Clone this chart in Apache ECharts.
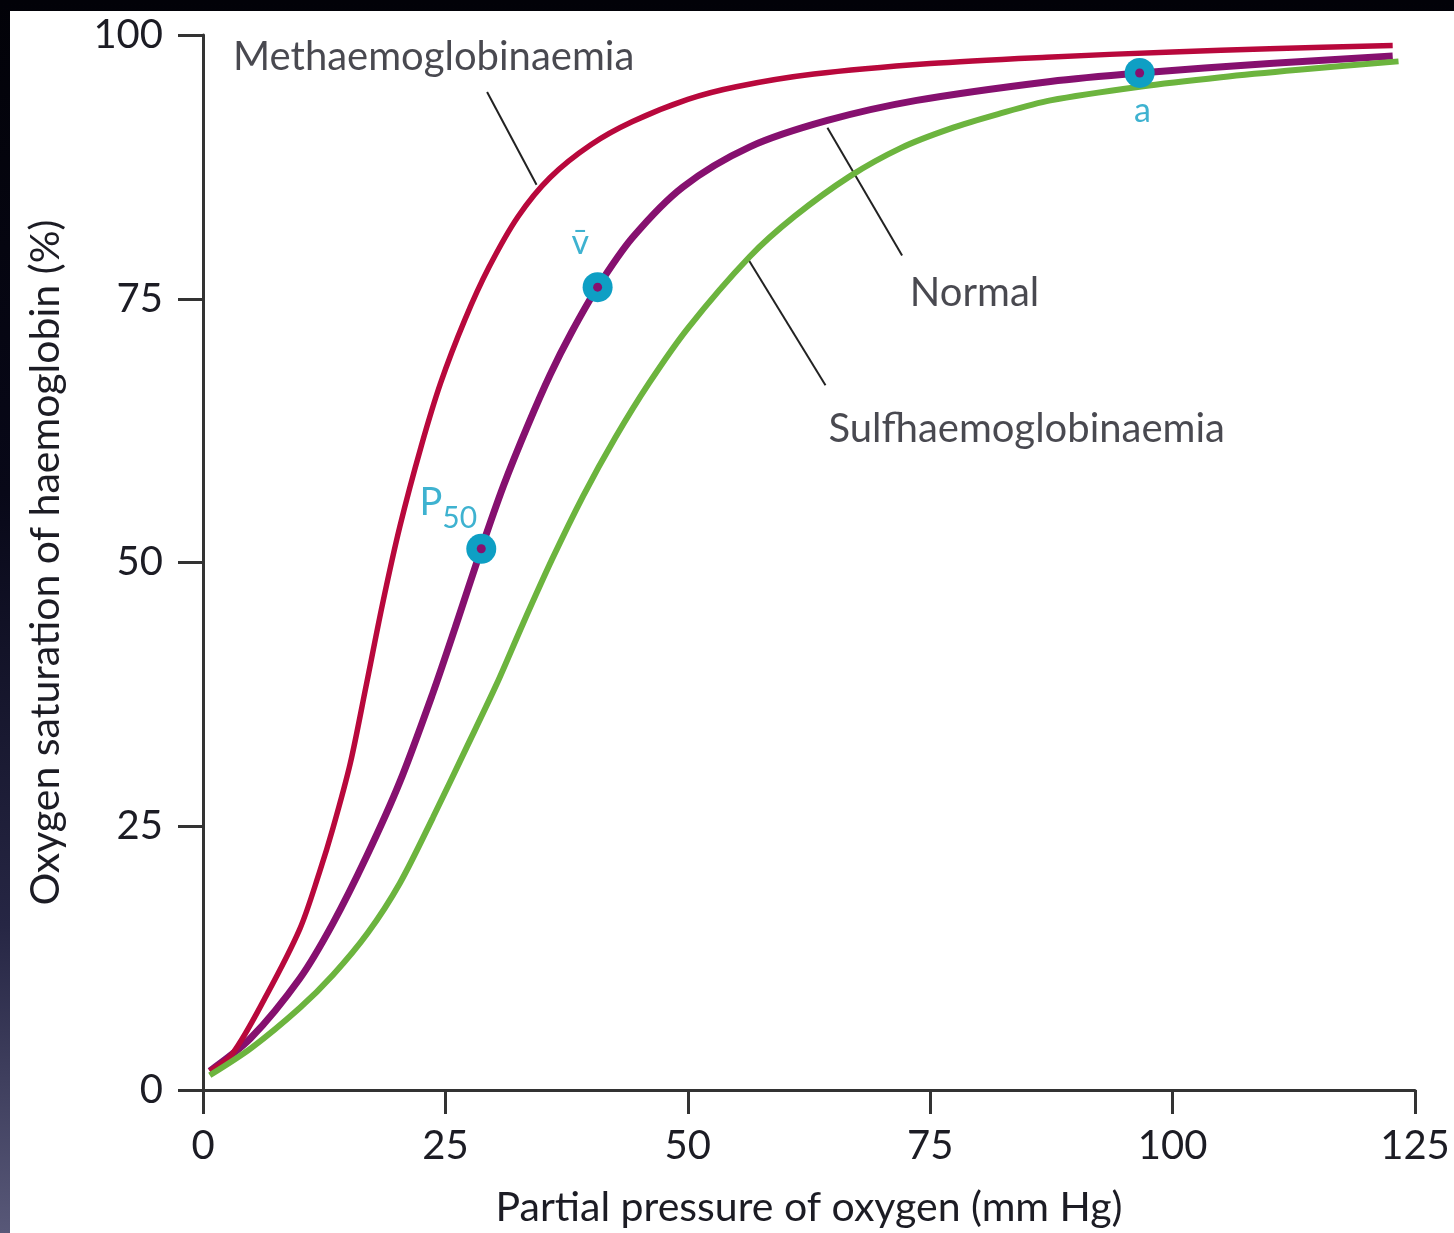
<!DOCTYPE html>
<html><head><meta charset="utf-8">
<script src="https://cdn.jsdelivr.net/npm/echarts@6/dist/echarts.min.js"></script>
<style>
html,body{margin:0;padding:0;width:1454px;height:1233px;overflow:hidden;background:linear-gradient(to bottom,#020208 0%,#080818 40%,#262644 75%,#585878 100%);}
#chart{position:absolute;left:10px;top:11px;width:1444px;height:1222px;background:#fff;}
</style></head><body><div id="chart"></div>
<script>
// Axis ticks
const xTicks = [0, 25, 50, 75, 100, 125];
const yTicks = [0, 25, 50, 75, 100];

// Curves: [pressure mmHg, saturation %]
const normalCurve = [[0.7,1.8],[4.9,4.9],[10,10.6],[13.4,15.8],[16.9,22.2],[20.3,29.2],[23.7,37.6],[26,43.8],[28.7,51.3],[31,57.3],[33.5,63],[35.8,67.8],[38,71.8],[40.7,76.1],[44.3,80.8],[49.5,85.6],[56.4,89.4],[64.4,91.9],[73.6,93.8],[87.4,95.6],[96.6,96.4],[110,97.3],[122.7,98]];
const methCurve = [[0.7,1.8],[3,3.4],[6.5,8.9],[10,15.3],[12,20.6],[13.4,24.8],[15.2,31],[16.8,38.2],[18.5,46],[20.3,53.4],[22.5,61],[24.5,67],[27,73],[29.5,78],[32.5,82.8],[35.8,86.5],[40,89.6],[44.3,91.8],[50,93.9],[55,95.1],[63,96.3],[75,97.3],[87,97.9],[100,98.4],[110,98.7],[122.7,99]];
const sulfCurve = [[0.7,1.4],[5,4],[10,7.8],[13.4,10.9],[17,14.9],[20.3,19.6],[23.7,25.8],[27.2,32.5],[30.3,38.5],[33,44.2],[36,50.3],[39.2,56.3],[42.5,61.8],[46,67],[50,72.2],[56.4,79],[61,82.8],[66.7,86.6],[72,89.3],[77,91.1],[82,92.5],[87.4,93.8],[96.6,95.1],[105,96],[113,96.7],[123.3,97.5]];

// Marked points on the normal curve
const markerPoints = [[28.7,51.3],[40.7,76.1],[96.6,96.4]];
const markerNames = ['P50', 'v̄', 'a'];
const markerLabelAt = [[25.3,55.0],[38.9,80.3],[96.9,92.8]];

// Curve names and leader lines
const curveNames = ['Methaemoglobinaemia', 'Normal', 'Sulfhaemoglobinaemia'];
const curveNameAt = [[3.1,97.9],[72.9,75.5],[64.5,62.6]];
const leaderLines = [[[29.3,94.6],[34.4,85.8]],[[64.4,91.2],[72.1,79.1]],[[56.2,78.8],[64.2,66.8]]];

const FONT = 'Lato';
const TXT = '#1c1c24';
const CYAN = '#0e9fc4';
const RED = '#b8083c';
const PURPLE = '#86106f';
const GREEN = '#6cb43e';

const chart = echarts.init(document.getElementById('chart'));

const series = [];
leaderLines.forEach(l => series.push({
  type: 'line', data: l, symbol: 'none', silent: true, z: 1,
  lineStyle: { color: '#222', width: 2 }
}));
series.push({ type: 'line', data: normalCurve, smooth: 0.3, symbol: 'none', z: 3,
  lineStyle: { color: PURPLE, width: 7 } });
series.push({ type: 'line', data: methCurve, smooth: 0.3, symbol: 'none', z: 4,
  lineStyle: { color: RED, width: 5.5 } });
series.push({ type: 'line', data: sulfCurve, smooth: 0.3, symbol: 'none', z: 5,
  lineStyle: { color: GREEN, width: 6 } });
series.push({ type: 'scatter', data: markerPoints, symbolSize: 30, z: 6,
  itemStyle: { color: CYAN, opacity: 1 } });
series.push({ type: 'scatter', data: markerPoints, symbolSize: 9, z: 7,
  itemStyle: { color: PURPLE, opacity: 1 } });
series.push({ type: 'scatter', symbolSize: 0, z: 8, silent: true,
  data: markerLabelAt.map((p, i) => ({ value: p, name: markerNames[i] })),
  label: { show: true, position: 'inside', color: CYAN, fontFamily: FONT, fontSize: 34,
    formatter: p => p.name === 'P50' ? '{p|P}{s|50}' : p.name,
    rich: { p: { fontSize: 38, fontFamily: FONT, color: CYAN, verticalAlign: 'top', padding:[0,0,14,0] },
            s: { fontSize: 30, fontFamily: FONT, color: CYAN, padding:[18,0,0,0] } } } });
series.push({ type: 'scatter', symbolSize: 0, z: 8, silent: true,
  data: curveNameAt.map((p, i) => ({ value: p, name: curveNames[i] })),
  label: { show: true, position: 'right', distance: 0, color: TXT, fontFamily: FONT, fontSize: 40,
    formatter: p => p.name } });

chart.setOption({
  animation: false,
  backgroundColor: '#fff',
  grid: { left: 193, right: 39, top: 24, bottom: 138 },
  xAxis: {
    type: 'value', min: 0, max: 125, interval: 25,
    name: 'Partial pressure of oxygen (mm Hg)', nameLocation: 'middle', nameGap: 97,
    nameTextStyle: { fontFamily: FONT, fontSize: 41, color: TXT },
    axisLine: { show: true, lineStyle: { color: '#333', width: 3 } },
    axisTick: { show: true, length: 24, lineStyle: { color: '#333', width: 3 } },
    axisLabel: { margin: 36, fontFamily: FONT, fontSize: 40, color: TXT,
      formatter: v => xTicks.includes(v) ? String(v) : '' },
    splitLine: { show: false }
  },
  yAxis: {
    type: 'value', min: 0, max: 100, interval: 25,
    name: 'Oxygen saturation of haemoglobin (%)', nameLocation: 'middle', nameGap: 137,
    nameTextStyle: { fontFamily: FONT, fontSize: 41, color: TXT },
    axisLine: { show: true, lineStyle: { color: '#333', width: 3 } },
    axisTick: { show: true, length: 25, lineStyle: { color: '#333', width: 3 } },
    axisLabel: { margin: 40, fontFamily: FONT, fontSize: 40, color: TXT,
      formatter: v => yTicks.includes(v) ? String(v) : '' },
    splitLine: { show: false }
  },
  series
});
</script></body></html>
